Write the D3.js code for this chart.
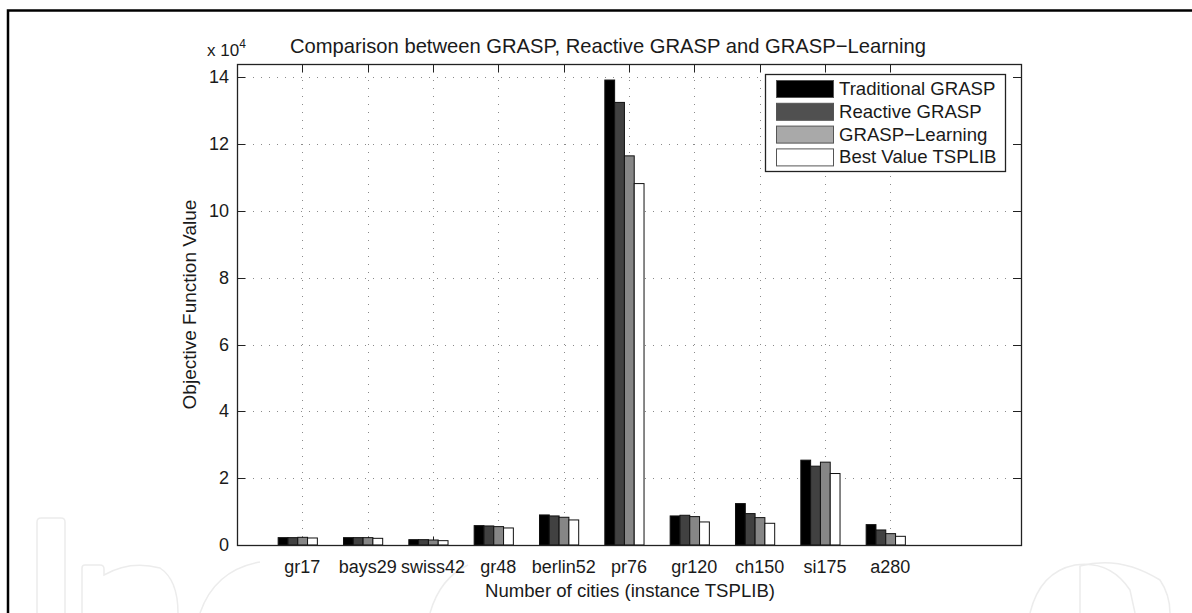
<!DOCTYPE html>
<html>
<head>
<meta charset="utf-8">
<script src="https://cdn.jsdelivr.net/npm/d3@7"></script>
<style>
  body { margin: 0; background: #fff; }
  svg text { font-family: "Liberation Sans", Arial, Helvetica, sans-serif; fill: #1a1a1a; }
</style>
</head>
<body>
<div id="chart"></div>
<script>
// instances and objective values
var cities = ["gr17", "bays29", "swiss42", "gr48", "berlin52", "pr76", "gr120", "ch150", "si175", "a280"];
var seriesNames = ["Traditional GRASP", "Reactive GRASP", "GRASP\u2212Learning", "Best Value TSPLIB"];
var traditional = [2200, 2200, 1600, 5800, 9000, 139200, 8700, 12400, 25400, 6100];
var reactive = [2200, 2200, 1600, 5700, 8700, 132500, 8900, 9400, 23600, 4500];
var learning = [2300, 2200, 1500, 5500, 8300, 116500, 8500, 8200, 24800, 3400];
var best = [2100, 2000, 1300, 5100, 7500, 108200, 6900, 6500, 21400, 2600];
var yTicks = [0, 20000, 40000, 60000, 80000, 100000, 120000, 140000];

var barFill = ["#000000", "#414141", "#868686", "#ffffff"];
var legendFill = ["#000000", "#505050", "#a9a9a9", "#ffffff"];

var svgWidth = 1192;
var svgHeight = 613;

var plot = { left: 237, right: 1021, top: 64, bottom: 545 };

var svg = d3.select("#chart")
    .append("svg")
    .attr("width", svgWidth)
    .attr("height", svgHeight);

// faint publisher watermark along the bottom
var wm = svg.append("g")
    .attr("fill", "none")
    .attr("stroke", "#ececec")
    .attr("stroke-width", 1.5);
wm.append("path").attr("d", "M37,613 L37,522 Q37,518 41,518 L61,518 Q65,518 65,522 L65,613");
wm.append("path").attr("d", "M82,613 L82,568 Q82,565 85,565 L100,565 Q104,565 104,569 L104,575 Q130,560 160,568 Q178,580 178,613");
wm.append("path").attr("d", "M200,613 Q215,570 260,562");
wm.append("path").attr("d", "M430,613 Q440,578 468,565");
wm.append("path").attr("d", "M1030,613 Q1040,572 1075,565 Q1110,560 1130,590 L1135,613");
wm.append("path").attr("d", "M1080,613 L1080,566 Q1120,555 1160,580 Q1170,595 1170,613");

// outer frame (top and left edges visible)
svg.append("path")
    .attr("d", "M8,613 L8,10.5 L1192,10.5")
    .attr("fill", "none")
    .attr("stroke", "#000")
    .attr("stroke-width", 2.5);

var x = d3.scaleLinear().domain([0, 12]).range([plot.left, plot.right]);
var y = d3.scaleLinear().domain([0, 144000]).range([plot.bottom, plot.top]);
var xs = d3.scaleBand().domain(d3.range(4)).range([-0.37, 0.23]);

var allSeries = [traditional, reactive, learning, best];
var catTicks = d3.range(1, cities.length + 1);

// dotted grid
var grid = svg.append("g")
    .attr("stroke", "#8a8a8a")
    .attr("stroke-width", 1)
    .attr("stroke-dasharray", "1,7");
grid.selectAll("line.h")
    .data(yTicks.slice(1))
    .enter().append("line")
    .attr("x1", plot.left).attr("x2", plot.right)
    .attr("y1", d => Math.round(y(d)) + 0.5)
    .attr("y2", d => Math.round(y(d)) + 0.5);
grid.selectAll("line.v")
    .data(catTicks)
    .enter().append("line")
    .attr("x1", d => Math.round(x(d)) + 0.5)
    .attr("x2", d => Math.round(x(d)) + 0.5)
    .attr("y1", plot.bottom).attr("y2", plot.top);

// inward ticks on all four sides
var tickLen = 8;
var ticks = svg.append("g").attr("stroke", "#222").attr("stroke-width", 1);
catTicks.forEach(function(c) {
    var px = Math.round(x(c)) + 0.5;
    ticks.append("line").attr("x1", px).attr("x2", px).attr("y1", plot.top).attr("y2", plot.top + tickLen);
    ticks.append("line").attr("x1", px).attr("x2", px).attr("y1", plot.bottom).attr("y2", plot.bottom - tickLen);
});
yTicks.forEach(function(v) {
    var py = Math.round(y(v)) + 0.5;
    ticks.append("line").attr("x1", plot.left).attr("x2", plot.left + tickLen).attr("y1", py).attr("y2", py);
    ticks.append("line").attr("x1", plot.right).attr("x2", plot.right - tickLen).attr("y1", py).attr("y2", py);
});

// bars
var bars = svg.append("g");
allSeries.forEach(function(values, s) {
    bars.selectAll("rect.s" + s)
        .data(values)
        .enter()
        .append("rect")
        .attr("class", "s" + s)
        .attr("x", (d, i) => x(i + 1 + xs(s)))
        .attr("width", x(xs.bandwidth()) - x(0))
        .attr("y", d => y(d))
        .attr("height", d => y(0) - y(d))
        .attr("fill", barFill[s])
        .attr("stroke", "#111")
        .attr("stroke-width", 1);
});

// axes box
svg.append("rect")
    .attr("x", plot.left + 0.5)
    .attr("y", plot.top + 0.5)
    .attr("width", plot.right - plot.left)
    .attr("height", plot.bottom - plot.top)
    .attr("fill", "none")
    .attr("stroke", "#222")
    .attr("stroke-width", 1.3);

// tick labels
svg.append("g").selectAll("text")
    .data(yTicks)
    .enter().append("text")
    .attr("x", 229)
    .attr("y", d => y(d) + 6)
    .attr("text-anchor", "end")
    .attr("font-size", 18)
    .text(d => d / 10000);

svg.append("g").selectAll("text")
    .data(cities)
    .enter().append("text")
    .attr("x", (d, i) => x(i + 1))
    .attr("y", 573)
    .attr("text-anchor", "middle")
    .attr("font-size", 18)
    .text(d => d);

// exponent
var expo = svg.append("text")
    .attr("x", 207)
    .attr("y", 56)
    .attr("font-size", 17);
expo.append("tspan").text("x 10");
expo.append("tspan").attr("dy", -8).attr("font-size", 12).text("4");

// title and axis labels
svg.append("text")
    .attr("x", 608)
    .attr("y", 53)
    .attr("text-anchor", "middle")
    .attr("font-size", 20.2)
    .text("Comparison between GRASP, Reactive GRASP and GRASP\u2212Learning");

svg.append("text")
    .attr("x", 630)
    .attr("y", 597)
    .attr("text-anchor", "middle")
    .attr("font-size", 18.6)
    .text("Number of cities (instance TSPLIB)");

svg.append("text")
    .attr("transform", "translate(196," + ((plot.top + plot.bottom) / 2) + ") rotate(-90)")
    .attr("text-anchor", "middle")
    .attr("font-size", 19)
    .text("Objective Function Value");

// legend
var legend = svg.append("g");
legend.append("rect")
    .attr("x", 765.5).attr("y", 74.5)
    .attr("width", 240).attr("height", 97)
    .attr("fill", "#fff")
    .attr("stroke", "#222")
    .attr("stroke-width", 1.3);
seriesNames.forEach(function(name, s) {
    var ly = 80 + s * 22.8;
    legend.append("rect")
        .attr("x", 776.5).attr("y", ly + 0.5)
        .attr("width", 57).attr("height", 17)
        .attr("fill", legendFill[s])
        .attr("stroke", "#555")
        .attr("stroke-width", 1);
    legend.append("text")
        .attr("x", 839)
        .attr("y", ly + 15)
        .attr("font-size", 18.6)
        .text(name);
});
</script>
</body>
</html>
